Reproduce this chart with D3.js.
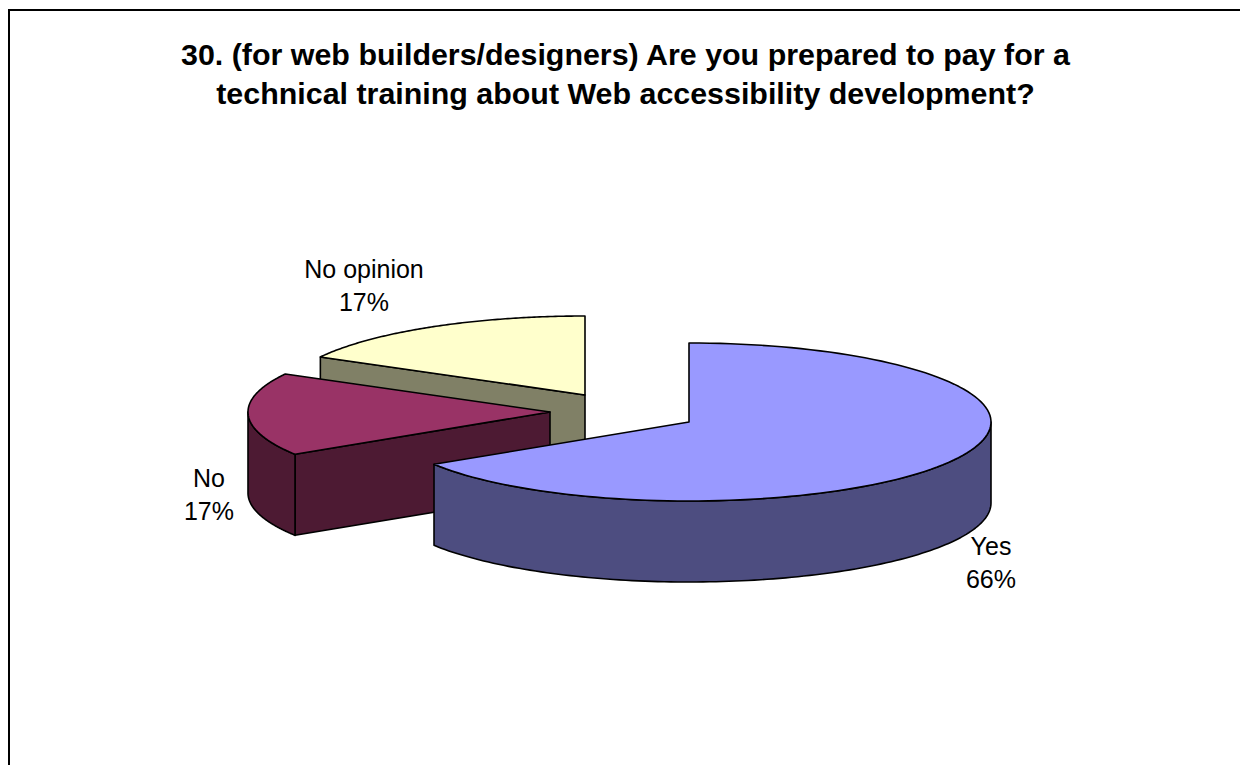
<!DOCTYPE html>
<html><head><meta charset="utf-8"><style>html,body{margin:0;padding:0;background:#fff}svg{display:block}text{font-family:"Liberation Sans",Arial,sans-serif;fill:#000}</style>
<script src="https://cdn.jsdelivr.net/npm/d3@7"></script></head><body><svg id="c" width="1240" height="765"></svg>
<script>
const categories=["Yes","No","No opinion"];
const seriesValues=[66,17,17];
const topColors=["#9999ff","#993366","#ffffcc"];
const sideColors=["#4d4d80","#4d1a33","#808066"];
const titleLines=["30. (for web builders/designers) Are you prepared to pay for a","technical training about Web accessibility development?"];
const sliceCentres=[[689,422],[550,412],[585,395]];
const labelAnchors=[[991,555],[209,487],[364,278]];
const rx=302,ry=79,depth=81,fmt=d3.format(".0%");
const total=d3.sum(seriesValues);
const svg=d3.select("#c");
svg.append("rect").attr("x",9).attr("y",10).attr("width",1300).attr("height",800).attr("fill","#fff").attr("stroke","#000").attr("stroke-width",2);
const title=svg.append("g");
titleLines.forEach((t,i)=>title.append("text").attr("x",625.5).attr("y",65+i*39).attr("text-anchor","middle").attr("font-size",30.4).attr("font-weight","bold").text(t));
const arcs=d3.pie().sort(null).value(d=>d)(seriesValues);
const pt=(c,a,dy=0)=>[c[0]+rx*Math.sin(a),c[1]-ry*Math.cos(a)+dy];
const samples=(a0,a1)=>d3.range(0,121).map(i=>a0+(a1-a0)*i/120);
const line=d3.line();
const draw=(pts,fill)=>svg.append("path").attr("d",line(pts)+"Z").attr("fill",fill).attr("stroke","#000").attr("stroke-width",1.6).attr("stroke-linejoin","round");
[2,1,0].forEach(i=>{
  const a=arcs[i],c=sliceCentres[i];
  if(i>0){const e=pt(c,a.startAngle);draw([e,c,[c[0],c[1]+depth],[e[0],e[1]+depth]],sideColors[i]);}
  const r0=Math.max(a.startAngle,Math.PI/2),r1=Math.min(a.endAngle,3*Math.PI/2);
  if(r1>r0){const s=samples(r0,r1);draw(s.map(x=>pt(c,x)).concat(s.slice().reverse().map(x=>pt(c,x,depth))),sideColors[i]);}
  draw([c].concat(samples(a.startAngle,a.endAngle).map(x=>pt(c,x))),topColors[i]);
});
categories.forEach((n,i)=>{
  const [x,y]=labelAnchors[i];
  [n,fmt(seriesValues[i]/total)].forEach((t,k)=>svg.append("text").attr("x",x).attr("y",y+k*33).attr("text-anchor","middle").attr("font-size",25).text(t));
});
</script></body></html>
